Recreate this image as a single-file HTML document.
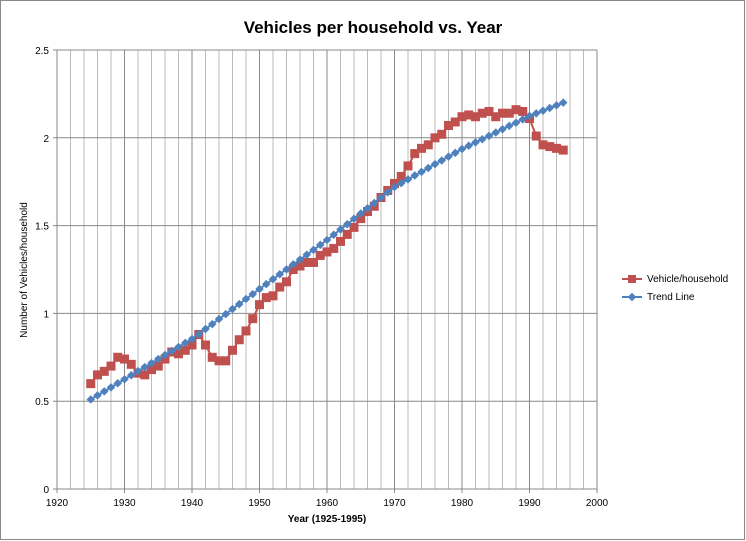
<!DOCTYPE html>
<html><head><meta charset="utf-8"><style>
body{margin:0;background:#fff;font-family:"Liberation Sans",sans-serif}
</style></head><body>
<svg id="c" width="746" height="541" style="display:block">
<rect x="0.5" y="0.5" width="744" height="539" fill="#fff" stroke="#888"/>
<text x="373" y="33" text-anchor="middle" font-size="17" font-weight="bold">Vehicles per household  vs. Year</text>
<g id="grid"></g><g id="axes"></g><g id="series"></g>
<text x="327" y="522" text-anchor="middle" font-size="10" font-weight="bold">Year (1925-1995)</text>
<text transform="translate(27,270) rotate(-90)" text-anchor="middle" font-size="10">Number of Vehicles/household</text>
<g>
<g><line x1="622" y1="279" x2="642" y2="279" stroke="#c0504d" stroke-width="2"/><rect x="628" y="275" width="8" height="8" fill="#c0504d"/><text x="647" y="282" font-size="10">Vehicle/household</text></g>
<g><line x1="622" y1="297" x2="642" y2="297" stroke="#4f81bd" stroke-width="2"/><rect x="629" y="294" width="6" height="6" fill="#4f81bd" transform="rotate(45 632 297)"/><text x="647" y="300" font-size="10">Trend Line</text></g>
</g>
</svg>
<script>
const years=[];for(let y=1925;y<=1995;y++)years.push(y);
const vehicles=[.60,.65,.67,.70,.75,.74,.71,.66,.65,.68,.70,.74,.78,.77,.79,.82,.88,.82,.75,.73,.73,.79,.85,.90,.97,1.05,1.09,1.10,1.15,1.18,1.25,1.27,1.29,1.29,1.33,1.35,1.37,1.41,1.45,1.49,1.54,1.58,1.61,1.66,1.70,1.74,1.78,1.84,1.91,1.94,1.96,2.00,2.02,2.07,2.09,2.12,2.13,2.12,2.14,2.15,2.12,2.14,2.14,2.16,2.15,2.11,2.01,1.96,1.95,1.94,1.93];
const trend=[.51,.533,.556,.579,.602,.625,.648,.671,.694,.717,.740,.763,.786,.809,.832,.854,
.882,.911,.939,.968,.996,1.025,1.053,1.082,1.110,1.139,
1.167,1.195,1.223,1.251,1.279,1.306,1.334,1.362,1.390,1.418,
1.448,1.478,1.508,1.539,1.569,1.599,1.629,1.660,1.690,1.720,
1.742,1.763,1.785,1.806,1.828,1.850,1.871,1.893,1.914,1.936,
1.955,1.974,1.992,2.011,2.030,2.049,2.068,2.086,2.105,2.124,
2.139,2.154,2.170,2.185,2.200];
const xTicks=[1920,1930,1940,1950,1960,1970,1980,1990,2000];
const yTicks=[0,0.5,1,1.5,2,2.5];
const X0=57,X1=597,Y0=489,Y1=50;
const sx=v=>X0+(v-1920)/80*(X1-X0), sy=v=>Y0-v/2.5*(Y0-Y1);
const NS='http://www.w3.org/2000/svg';
function mk(t,a,p){const e=document.createElementNS(NS,t);for(const k in a)e.setAttribute(k,a[k]);p.appendChild(e);return e;}
const grid=document.getElementById('grid'),axes=document.getElementById('axes'),ser=document.getElementById('series');
for(let y=1922;y<2000;y+=2){if(y%10===0)continue;const l=mk('line',{x1:sx(y),x2:sx(y),y1:Y1,y2:Y0,stroke:'#bbb','stroke-width':1},grid);

}
xTicks.forEach(t=>{const l=mk('line',{x1:sx(t),x2:sx(t),y1:Y1,y2:Y0+4,stroke:'#888','stroke-width':1},grid);


const tx=mk('text',{x:sx(t),y:Y0+17,'text-anchor':'middle','font-size':10},axes);tx.textContent=t;

});
yTicks.forEach(t=>{const l=mk('line',{x1:X0-4,x2:X1,y1:sy(t),y2:sy(t),stroke:'#888','stroke-width':1},grid);


const tx=mk('text',{x:X0-8,y:sy(t)+4,'text-anchor':'end','font-size':10},axes);tx.textContent=t;

});
function line(vals,col,name){const p=mk('polyline',{points:vals.map((v,i)=>sx(years[i])+','+sy(v)).join(' '),fill:'none',stroke:col,'stroke-width':2},ser);

}
line(vehicles,'#c0504d','vehicle-line');
vehicles.forEach((v,i)=>{const r=mk('rect',{x:sx(years[i])-4.5,y:sy(v)-4.5,width:9,height:9,fill:'#c0504d'},ser);

});
line(trend,'#4f81bd','trend-line');
trend.forEach((v,i)=>{const x=sx(years[i]),y=sy(v);const r=mk('rect',{x:x-3,y:y-3,width:6,height:6,fill:'#4f81bd',transform:`rotate(45 ${x} ${y})`},ser);

});
</script>
</body></html>
